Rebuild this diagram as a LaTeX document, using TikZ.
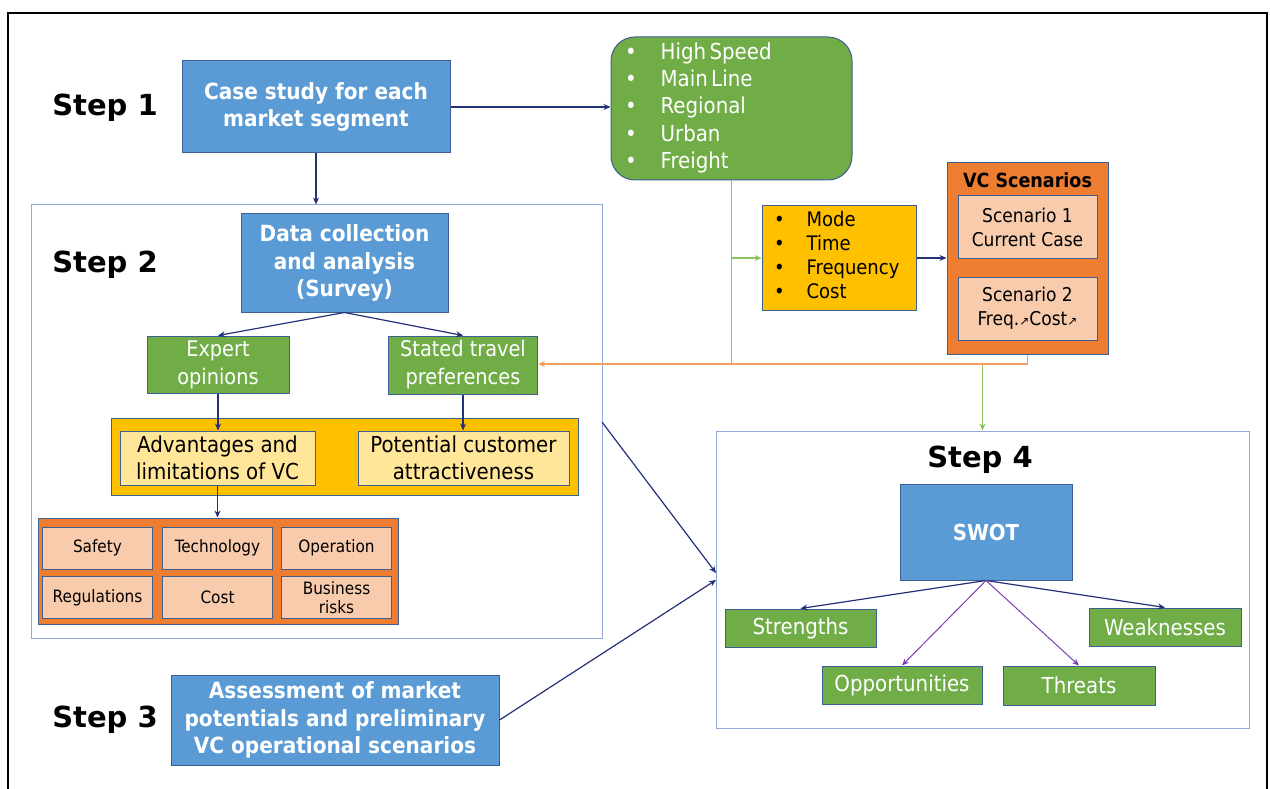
\documentclass[tikz,border=0pt]{standalone}
\usepackage{fontspec}
\setmainfont{DejaVu Sans Condensed}
\newfontfamily\symf{DejaVu Sans}
\usetikzlibrary{arrows.meta}
\definecolor{bfill}{HTML}{5B9BD5}
\definecolor{bline}{HTML}{3D5F91}
\definecolor{gfill}{HTML}{70AD47}
\definecolor{yfill}{HTML}{FFC000}
\definecolor{lyfill}{HTML}{FFE699}
\definecolor{ofill}{HTML}{ED7D31}
\definecolor{lofill}{HTML}{F8CBAD}
\definecolor{navy}{HTML}{243078}
\definecolor{purp}{HTML}{7B3FB0}
\definecolor{frame}{HTML}{8EA9DB}
\definecolor{gconn}{HTML}{8CC65A}
\definecolor{oconn}{HTML}{F4A060}
\tikzset{
  box/.style={draw, rectangle, inner sep=0pt, align=center, line width=1pt},
  bluebox/.style={box, fill=bfill, draw=bline, text=white, font=\bfseries\fontsize{22.3}{27.5}\selectfont},
  greenbox/.style={box, fill=gfill, draw=bline, text=white, font=\fontsize{21.5}{28}\selectfont},
  cell/.style={box, fill=lofill, draw=bline, minimum width=110pt, minimum height=42pt, font=\fontsize{17}{19}\selectfont},
  framebox/.style={draw=frame, line width=1pt, rectangle, inner sep=0pt},
  steplabel/.style={font=\symf\bfseries\fontsize{29}{34}\selectfont, inner sep=0pt},
  navyarrow/.style={draw=navy, line width=1.2pt, -{Stealth[length=7pt,width=6pt]}},
  purparrow/.style={draw=purp, line width=1pt, -{Stealth[length=7pt,width=6pt]}},
  garrow/.style={draw=gconn, line width=1.2pt, -{Stealth[length=7pt,width=6pt]}},
  oarrow/.style={draw=oconn, line width=1.2pt, -{Stealth[length=7pt,width=6pt]}},
}
\begin{document}
\begin{tikzpicture}[x=1pt,y=-1pt]
\useasboundingbox (0,0) rectangle (1270,789);
% outer frame
\draw[line width=2pt] (8,800) -- (8,13) -- (1267,13) -- (1267,800);

% Step labels
\node[steplabel] (s1) at (105,108) {Step 1};
\node[steplabel] (s2) at (105,265) {Step 2};
\node[steplabel] (s3) at (105,720) {Step 3};

% frames
\node[framebox, minimum width=571pt, minimum height=433pt] (step2) at (316.5,421.5) {};
\node[framebox, minimum width=533pt, minimum height=297pt] (step4) at (982.5,579.5) {};
\node[steplabel] (s4) at (980,460) {Step 4};

% Step 1
\node[bluebox, minimum width=268pt, minimum height=92pt] (cs) at (316,107) {Case study for each\\market segment};
\node[box, fill=gfill, draw=bline, rounded corners=24pt, minimum width=241pt, minimum height=143pt,
      text width=221pt, inner xsep=10pt, align=left, text=white] (seg) at (731.5,108.5)
  {\fontsize{22}{27.3}\selectfont\begin{tabular}{@{\hspace{4pt}}l@{\hspace{24pt}}l@{}}
   \textbullet & High Speed\\ \textbullet & Main Line\\ \textbullet & Regional\\ \textbullet & Urban\\ \textbullet & Freight
   \end{tabular}};

% Step 2 content
\node[bluebox, minimum width=207pt, minimum height=98pt] (dc) at (344.5,263) {Data collection\\and analysis\\(Survey)};
\node[greenbox, minimum width=142pt, minimum height=57pt] (exp) at (218,364.5) {Expert\\opinions};
\node[greenbox, minimum width=149pt, minimum height=58pt] (stp) at (463,365) {Stated travel\\preferences};
\node[box, fill=yfill, draw=bline, minimum width=467pt, minimum height=77pt] (yc) at (344.5,457) {};
\node[box, fill=lyfill, draw=bline, minimum width=195pt, minimum height=54pt, font=\fontsize{22}{27}\selectfont] (adv) at (217.5,458) {Advantages and\\limitations of VC};
\node[box, fill=lyfill, draw=bline, minimum width=211pt, minimum height=54pt, font=\fontsize{22}{27}\selectfont] (pot) at (463.5,458) {Potential customer\\attractiveness};
\node[box, fill=ofill, draw=bline, minimum width=360pt, minimum height=106pt] (risk) at (218,571) {};
\node[cell] (c1) at (97.5,548) {Safety};
\node[cell] (c2) at (217.5,548) {Technology};
\node[cell] (c3) at (336.5,548) {Operation};
\node[cell] (c4) at (97.5,597.5) {Regulations};
\node[cell] (c5) at (217.5,597.5) {Cost};
\node[cell] (c6) at (336.5,597.5) {Business\\risks};

% Step 3
\node[bluebox, minimum width=328pt, minimum height=90pt] (as) at (335,720) {Assessment of market\\potentials and preliminary\\VC operational scenarios};

% Mode box
\node[box, fill=yfill, draw=bline, minimum width=154pt, minimum height=105pt, text width=142pt, inner xsep=6pt, align=left] (mode) at (839,258)
  {\fontsize{20}{24}\selectfont\begin{tabular}{@{\hspace{6pt}}l@{\hspace{22pt}}l@{}}
   \textbullet & Mode\\ \textbullet & Time\\ \textbullet & Frequency\\ \textbullet & Cost
   \end{tabular}};

% VC scenarios
\node[box, fill=ofill, draw=bline, minimum width=161pt, minimum height=191pt] (vc) at (1027.5,258.5) {};
\node[inner sep=0pt, font=\bfseries\fontsize{19.5}{22}\selectfont] (vct) at (1027.5,180) {VC Scenarios};
\node[box, fill=lofill, draw=bline, minimum width=139pt, minimum height=62pt, font=\fontsize{19}{24}\selectfont] (sc1) at (1027.5,227) {Scenario 1\\Current Case};
\node[box, fill=lofill, draw=bline, minimum width=139pt, minimum height=63pt, font=\fontsize{19}{24}\selectfont] (sc2) at (1027.5,308.5) {Scenario 2\\Freq.{\symf\fontsize{12}{12}\selectfont ↗}Cost{\symf\fontsize{12}{12}\selectfont ↗}};

% Step 4 content
\node[bluebox, minimum width=172pt, minimum height=96pt, font=\bfseries\fontsize{22}{24}\selectfont] (swot) at (986,532) {SWOT};
\node[greenbox, minimum width=151pt, minimum height=38pt, font=\fontsize{22}{24}\selectfont] (str) at (800.5,628) {Strengths};
\node[greenbox, minimum width=152pt, minimum height=38pt, font=\fontsize{22}{24}\selectfont] (wea) at (1165,627) {Weaknesses};
\node[greenbox, minimum width=160pt, minimum height=38pt, font=\fontsize{22}{24}\selectfont] (opp) at (902,685) {Opportunities};
\node[greenbox, minimum width=152pt, minimum height=39pt, font=\fontsize{22}{24}\selectfont] (thr) at (1079,685.5) {Threats};

% connectors
\draw[navyarrow] (cs.east) -- (seg.west |- cs.east);
\draw[navyarrow] (cs.south) -- (cs.south |- step2.north);
\draw[navyarrow] (dc.south) -- (exp.north);
\draw[navyarrow] (dc.south) -- (stp.north);
\draw[navyarrow] (exp.south) -- (exp.south |- adv.north);
\draw[navyarrow] (stp.south) -- (stp.south |- pot.north);
\draw[navyarrow] (adv.south) -- (adv.south |- risk.north);
\draw[navyarrow] (mode.east) -- (mode.east -| vc.west);

\coordinate (gj) at (731.5,364);
\draw[garrow] (seg.south) -- (gj) -| (step4.north);
\draw[garrow] (seg.south |- mode.west) -- (mode.west);
\draw[oarrow] (vc.south) |- ([yshift=1pt]stp.east);

\coordinate (f2) at (602,422);
\coordinate (t1) at (716,573);
\coordinate (t2) at (716,580);
\draw[navyarrow] (f2) -- (t1);
\draw[navyarrow] (as.east) -- (t2);

\draw[navyarrow] (swot.south) -- (str.north);
\draw[navyarrow] (swot.south) -- (wea.north);
\draw[purparrow] (swot.south) -- (opp.north);
\draw[purparrow] (swot.south) -- (thr.north);
\end{tikzpicture}
\end{document}
